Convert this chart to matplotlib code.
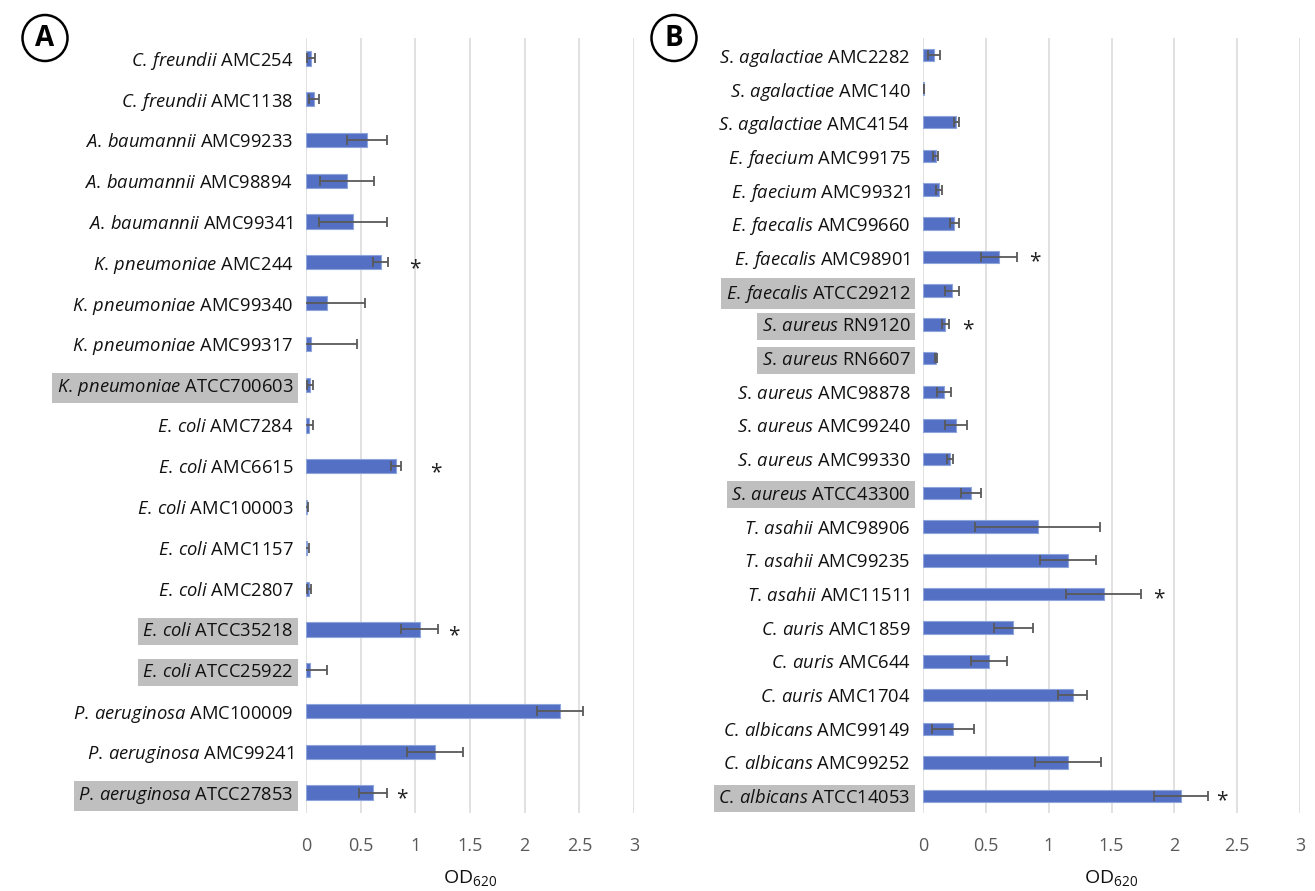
import numpy as np
import matplotlib
matplotlib.use('Agg')
import matplotlib.pyplot as plt
from matplotlib.patches import Ellipse

plt.rcParams['font.family'] = ['Open Sans', 'DejaVu Sans']
plt.rcParams['mathtext.fontset'] = 'custom'
plt.rcParams['mathtext.rm'] = 'Open Sans'
plt.rcParams['mathtext.it'] = 'Open Sans:italic'

# Painel A - bacterias gram-negativas
especie_a = ['C. freundii', 'C. freundii', 'A. baumannii', 'A. baumannii', 'A. baumannii',
             'K. pneumoniae', 'K. pneumoniae', 'K. pneumoniae', 'K. pneumoniae',
             'E. coli', 'E. coli', 'E. coli', 'E. coli', 'E. coli', 'E. coli', 'E. coli',
             'P. aeruginosa', 'P. aeruginosa', 'P. aeruginosa']
cepa_a = ['AMC254', 'AMC1138', 'AMC99233', 'AMC98894', 'AMC99341',
          'AMC244', 'AMC99340', 'AMC99317', 'ATCC700603',
          'AMC7284', 'AMC6615', 'AMC100003', 'AMC1157', 'AMC2807', 'ATCC35218', 'ATCC25922',
          'AMC100009', 'AMC99241', 'ATCC27853']
od_a = [0.045, 0.07, 0.556, 0.376, 0.433, 0.683, 0.19, 0.046, 0.035,
        0.027, 0.825, 0.005, 0.005, 0.027, 1.04, 0.038, 2.325, 1.18, 0.61]
erro_a = [0.035, 0.045, 0.185, 0.25, 0.31, 0.067, 0.35, 0.425, 0.03,
          0.035, 0.048, 0.015, 0.025, 0.015, 0.17, 0.15, 0.21, 0.255, 0.127]
destaque_a = ['ATCC700603', 'ATCC35218', 'ATCC25922', 'ATCC27853']
estrela_a = {'AMC244': 1.0, 'AMC6615': 1.185, 'ATCC35218': 1.35, 'ATCC27853': 0.88}

# Painel B - gram-positivas e fungos
especie_b = ['S. agalactiae', 'S. agalactiae', 'S. agalactiae', 'E. faecium', 'E. faecium',
             'E. faecalis', 'E. faecalis', 'E. faecalis',
             'S. aureus', 'S. aureus', 'S. aureus', 'S. aureus', 'S. aureus', 'S. aureus',
             'T. asahii', 'T. asahii', 'T. asahii', 'C. auris', 'C. auris', 'C. auris',
             'C. albicans', 'C. albicans', 'C. albicans']
cepa_b = ['AMC2282', 'AMC140', 'AMC4154', 'AMC99175', 'AMC99321',
          'AMC99660', 'AMC98901', 'ATCC29212',
          'RN9120', 'RN6607', 'AMC98878', 'AMC99240', 'AMC99330', 'ATCC43300',
          'AMC98906', 'AMC99235', 'AMC11511', 'AMC1859', 'AMC644', 'AMC1704',
          'AMC99149', 'AMC99252', 'ATCC14053']
od_b = [0.088, 0.005, 0.264, 0.10, 0.125, 0.25, 0.605, 0.233,
        0.179, 0.105, 0.166, 0.264, 0.213, 0.379,
        0.913, 1.153, 1.437, 0.72, 0.524, 1.19, 0.24, 1.153, 2.05]
erro_b = [0.046, 0.003, 0.02, 0.017, 0.025, 0.035, 0.14, 0.054,
          0.025, 0.01, 0.057, 0.09, 0.025, 0.08,
          0.497, 0.22, 0.30, 0.157, 0.145, 0.117, 0.167, 0.264, 0.215]
destaque_b = ['ATCC29212', 'RN9120', 'RN6607', 'ATCC43300', 'ATCC14053']
estrela_b = {'AMC98901': 0.89, 'RN9120': 0.355, 'AMC11511': 1.88, 'ATCC14053': 2.38}

cor_barra = '#5470C4'
cor_texto = '#595959'


def rotulo(especie, cepa):
    return r'$\mathit{' + especie.replace(' ', r'\,') + '}$ ' + cepa


def painel(ax, especie, cepa, od, erro, destaque, estrela, altura):
    y = np.arange(len(od))
    ax.barh(y, od, height=altura, color=cor_barra, edgecolor='#8EA5DB', linewidth=0.8, zorder=3)
    ax.errorbar(od, y, xerr=erro, fmt='none', ecolor=cor_texto, elinewidth=1.3,
                capsize=3.5, capthick=1.3, zorder=4)
    for i, c in enumerate(cepa):
        if c in estrela:
            ax.text(estrela[c], i + 0.15, '*', fontsize=15, ha='center', va='center', color='#222222')
    ax.set_xlim(0, 3)
    ax.set_ylim(len(od) - 0.5, -0.5)
    ax.set_xticks(np.arange(0, 3.01, 0.5))
    ax.set_xticklabels(['0', '0.5', '1', '1.5', '2', '2.5', '3'])
    ax.set_yticks(y)
    ax.set_yticklabels([rotulo(e, c) for e, c in zip(especie, cepa)])
    for lab, c in zip(ax.get_yticklabels(), cepa):
        if c in destaque:
            lab.set_bbox(dict(facecolor='#BFBFBF', edgecolor='none', pad=2.5))
    ax.grid(axis='x', color='#D9D9D9', linewidth=1.1, zorder=0)
    for s in ax.spines.values():
        s.set_visible(False)
    ax.tick_params(axis='y', length=0, pad=9, labelsize=13.2, labelcolor='#111111')
    ax.tick_params(axis='x', length=0, pad=17, labelsize=13, labelcolor=cor_texto)
    ax.set_xlabel('OD$_{620}$', fontsize=14, color='#111111', labelpad=10)


fig = plt.figure(figsize=(13.15, 8.91), dpi=100)
ax_a = fig.add_axes([306 / 1315, 1 - 813 / 891, 328 / 1315, 775 / 891])
ax_b = fig.add_axes([923 / 1315, 1 - 813 / 891, 377 / 1315, 775 / 891])

painel(ax_a, especie_a, cepa_a, od_a, erro_a, destaque_a, estrela_a, 0.35)
painel(ax_b, especie_b, cepa_b, od_b, erro_b, destaque_b, estrela_b, 0.37)

# letras dos paineis dentro de circulos
for letra, x, y in [('A', 45 / 1315, 1 - 38 / 891), ('B', 674 / 1315, 1 - 38 / 891)]:
    fig.add_artist(Ellipse((x, y), 45 / 1315, 46 / 891, transform=fig.transFigure,
                           facecolor='white', edgecolor='black', linewidth=1.8))
    fig.text(x, y - 1 / 891, letra, fontsize=20, fontweight='bold', ha='center', va='center')

plt.savefig('out.png', dpi=100)
